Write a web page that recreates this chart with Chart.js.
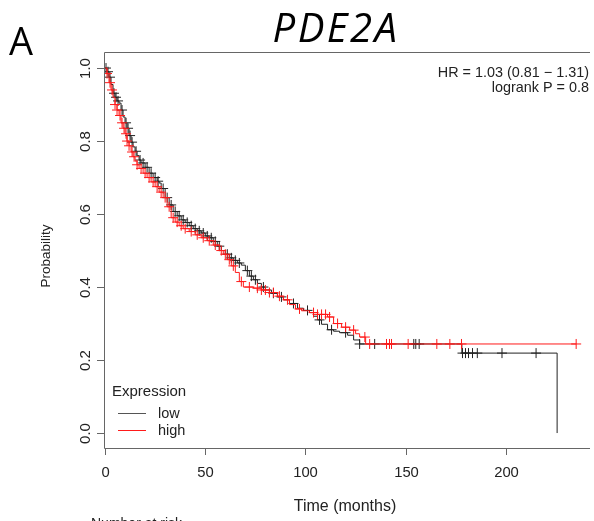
<!DOCTYPE html>
<html>
<head>
<meta charset="utf-8">
<script src="https://cdn.jsdelivr.net/npm/chart.js@4.4.1/dist/chart.umd.min.js"></script>
<style>
  html, body { margin: 0; padding: 0; background: #fff; }
  #wrap { width: 594px; height: 521px; }
</style>
</head>
<body>
<div id="wrap"><canvas id="chart" width="594" height="521"></canvas></div>
<script>
// Kaplan-Meier curves (time in months, survival probability)
const lowTimes = [0, 1, 2, 3, 4, 5, 6, 7, 8, 9, 10, 11, 12, 13, 14, 15, 16, 17, 18, 20, 22, 24, 26, 27, 28, 30, 32, 34, 36, 38, 40, 42, 44, 46, 48, 50, 52, 54, 56, 58, 60, 62, 64, 66, 68, 70, 72, 74, 76, 78, 80, 83, 86, 89, 92, 96, 99, 102, 104, 106, 108, 111, 114, 117, 121, 124, 127, 178, 225.5];
const lowSurv = [1.0, 0.99, 0.975, 0.955, 0.931, 0.92, 0.91, 0.904, 0.885, 0.866, 0.85, 0.835, 0.815, 0.797, 0.784, 0.772, 0.76, 0.748, 0.74, 0.728, 0.712, 0.70, 0.69, 0.685, 0.67, 0.645, 0.625, 0.607, 0.595, 0.584, 0.577, 0.568, 0.56, 0.554, 0.548, 0.54, 0.535, 0.525, 0.512, 0.5, 0.49, 0.48, 0.473, 0.466, 0.46, 0.445, 0.43, 0.42, 0.41, 0.40, 0.392, 0.383, 0.373, 0.365, 0.355, 0.342, 0.336, 0.33, 0.32, 0.31, 0.298, 0.283, 0.279, 0.275, 0.268, 0.255, 0.244, 0.219, 0.0];

const highTimes = [0, 1, 2, 3, 4, 5, 6, 7, 8, 9, 10, 11, 12, 13, 14, 15, 16, 17, 19, 21, 23, 25, 27, 29, 31, 33, 35, 37, 39, 42, 45, 48, 51, 54, 57, 59, 61, 63, 65, 67, 69, 74, 78, 82, 86, 89, 92, 95, 98, 102, 106, 111, 114, 118, 122, 125, 127, 130, 235];
const highSurv = [1.0, 0.985, 0.96, 0.94, 0.92, 0.9, 0.885, 0.87, 0.85, 0.835, 0.82, 0.80, 0.787, 0.77, 0.757, 0.745, 0.735, 0.725, 0.712, 0.70, 0.688, 0.675, 0.66, 0.645, 0.62, 0.59, 0.578, 0.568, 0.56, 0.552, 0.543, 0.535, 0.527, 0.515, 0.5, 0.49, 0.475, 0.458, 0.44, 0.415, 0.40, 0.397, 0.392, 0.385, 0.375, 0.365, 0.352, 0.34, 0.335, 0.33, 0.325, 0.318, 0.30, 0.29, 0.282, 0.272, 0.263, 0.244, 0.244];

// censored observations (+ marks)
const lowCensor = [0.5, 1.5, 2.5, 4.5, 5.5, 6.5, 8.5, 10.5, 11.5, 12.5, 13.5, 15.5, 17.5, 19, 21, 23, 25, 26.5, 29, 31, 33, 35, 37, 39, 41, 43, 45, 47, 49, 51, 53, 55, 57, 61, 63, 65, 67, 71, 73, 75, 79, 84, 88, 94, 101, 107, 113, 120, 127, 134.5, 154, 155, 156.7, 178.3, 179.8, 181.3, 183.3, 185.7, 198, 215];
const highCensor = [1, 2.5, 3.5, 5, 6, 7.5, 8.5, 9.5, 10.5, 11, 12, 13.5, 14.5, 16, 18, 20, 22, 24, 26, 28, 30, 32, 34, 36, 38, 40, 43, 46, 49, 52, 55, 58, 60, 62, 64, 68, 72, 76, 78, 80, 82, 84, 87, 91, 97, 104, 106, 108, 110, 112, 116, 120, 124, 129.6, 132, 140.4, 141.9, 142.9, 151.2, 165.5, 172, 177.8, 235];

const xTicks = [0, 50, 100, 150, 200];
const yTicks = [0.0, 0.2, 0.4, 0.6, 0.8, 1.0];
const groupLabels = ['low', 'high'];
const statsLines = ['HR = 1.03 (0.81 \u2212 1.31)', 'logrank P = 0.8'];

const BLACK = '#222222';
const RED = '#ff1a1a';
const AXIS = '#666666';
const TEXT = '#222222';
const FONT = '"Liberation Sans", Arial, sans-serif';

// survival value of a step curve at time t
function survAt(times, surv, t) {
    let s = surv[0];
    for (let i = 0; i < times.length; i++) {
        if (times[i] <= t) s = surv[i];
    }
    return s;
}

function curvePoints(times, surv) {
    return times.map((t, i) => ({ x: t, y: surv[i] }));
}

function censorPoints(censor, times, surv) {
    return censor.map(t => ({ x: t, y: survAt(times, surv, t) }));
}

// R-style axes, box, legend and annotations
const decorations = {
    id: 'decorations',
    afterDraw(chart) {
        const ctx = chart.ctx;
        const xs = chart.scales.x;
        const ys = chart.scales.y;
        const area = chart.chartArea;

        ctx.save();
        ctx.strokeStyle = AXIS;
        ctx.lineWidth = 1;

        // box (right side is off the canvas)
        ctx.beginPath();
        ctx.moveTo(Math.round(area.right) + 2, Math.round(area.top) + 0.5);
        ctx.lineTo(Math.round(area.left) + 0.5, Math.round(area.top) + 0.5);
        ctx.lineTo(Math.round(area.left) + 0.5, Math.round(area.bottom) + 0.5);
        ctx.lineTo(Math.round(area.right) + 2, Math.round(area.bottom) + 0.5);
        ctx.stroke();

        ctx.fillStyle = TEXT;

        // x axis ticks
        ctx.font = '14.8px ' + FONT;
        ctx.textAlign = 'center';
        ctx.textBaseline = 'middle';
        xTicks.forEach(v => {
            const px = Math.round(xs.getPixelForValue(v)) + 0.5;
            ctx.beginPath();
            ctx.moveTo(px, area.bottom);
            ctx.lineTo(px, area.bottom + 7);
            ctx.stroke();
            ctx.fillText(String(v), px, 473);
        });

        // y axis ticks, labels rotated like base R
        ctx.font = '15px ' + FONT;
        yTicks.forEach(v => {
            const py = Math.round(ys.getPixelForValue(v)) + 0.5;
            ctx.beginPath();
            ctx.moveTo(area.left, py);
            ctx.lineTo(area.left - 7, py);
            ctx.stroke();
            ctx.save();
            ctx.translate(86, py);
            ctx.rotate(-Math.PI / 2);
            ctx.fillText(v.toFixed(1), 0, 0);
            ctx.restore();
        });

        // axis titles
        ctx.font = '16px ' + FONT;
        ctx.fillText('Time (months)', 345, 507);
        ctx.font = '13.5px ' + FONT;
        ctx.save();
        ctx.translate(46, 256);
        ctx.rotate(-Math.PI / 2);
        ctx.fillText('Probability', 0, 0);
        ctx.restore();

        // cut-off table heading at the bottom
        ctx.font = '14px ' + FONT;
        ctx.textAlign = 'left';
        ctx.fillText('Number at risk', 91, 524);

        // stats in top right corner
        ctx.textAlign = 'right';
        ctx.font = '14.4px ' + FONT;
        ctx.fillText(statsLines[0], 589, 73);
        ctx.fillText(statsLines[1], 589, 88);

        // legend
        ctx.textAlign = 'left';
        ctx.font = '15px ' + FONT;
        ctx.fillText('Expression', 112, 392);
        ctx.font = '14.5px ' + FONT;
        [BLACK, RED].forEach((c, i) => {
            const ly = 413 + i * 17 + 0.5;
            ctx.strokeStyle = c === BLACK ? '#555555' : RED;
            ctx.beginPath();
            ctx.moveTo(118, ly);
            ctx.lineTo(146, ly);
            ctx.stroke();
            ctx.fillText(groupLabels[i], 158, ly);
        });

        // panel letter and gene title
        ctx.fillStyle = '#000';
        ctx.textAlign = 'center';
        ctx.textBaseline = 'alphabetic';
        ctx.font = '38px "Open Sans", ' + FONT;
        ctx.fillText('A', 21, 55);
        ctx.font = 'italic 40px "Open Sans", ' + FONT;
        ctx.letterSpacing = '2.5px';
        ctx.fillText('PDE2A', 336, 42);
        ctx.letterSpacing = '0px';
        ctx.restore();
    }
};

const chartCtx = document.getElementById('chart').getContext('2d');

const chart = new Chart(chartCtx, {
    type: 'scatter',
    data: {
        datasets: [
            {
                label: 'high censored',
                data: censorPoints(highCensor, highTimes, highSurv),
                showLine: false,
                pointStyle: 'cross',
                pointRadius: 5,
                borderColor: RED,
                borderWidth: 1,
            },
            {
                label: 'high',
                data: curvePoints(highTimes, highSurv),
                showLine: true,
                stepped: true,
                pointRadius: 0,
                borderColor: RED,
                borderWidth: 1,
            },
            {
                label: 'low censored',
                data: censorPoints(lowCensor, lowTimes, lowSurv),
                showLine: false,
                pointStyle: 'cross',
                pointRadius: 5,
                borderColor: BLACK,
                borderWidth: 1,
            },
            {
                label: 'low',
                data: curvePoints(lowTimes, lowSurv),
                showLine: true,
                stepped: true,
                pointRadius: 0,
                borderColor: BLACK,
                borderWidth: 1,
            },
        ],
    },
    options: {
        responsive: false,
        animation: false,
        layout: {
            padding: { left: 104, top: 52, right: 0, bottom: 73 },
        },
        scales: {
            x: { type: 'linear', min: -0.5, max: 240.9, display: false },
            y: { type: 'linear', min: -0.041, max: 1.044, display: false },
        },
        plugins: {
            legend: { display: false },
            tooltip: { enabled: false },
        },
    },
    plugins: [decorations],
});
</script>
</body>
</html>
